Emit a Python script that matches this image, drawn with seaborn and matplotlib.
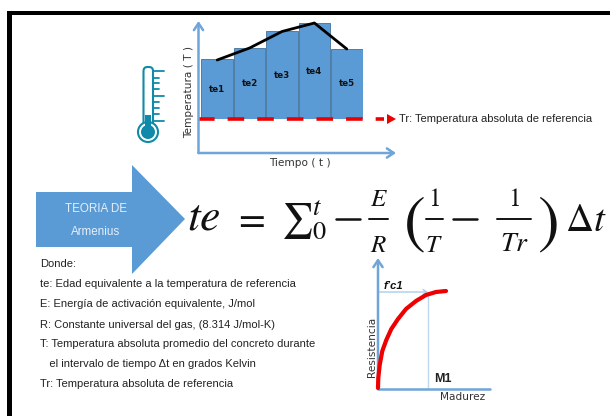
import numpy as np
import pandas as pd
import matplotlib
matplotlib.use("Agg")
import matplotlib.pyplot as plt
from matplotlib.patches import Polygon, Rectangle, Circle, FancyBboxPatch
import seaborn as sns

sns.set_theme(style="white")
plt.rcParams['font.family'] = ['Liberation Sans', 'DejaVu Sans']
plt.rcParams['mathtext.fontset'] = 'stix'

# temperature bars
intervals = ['te1', 'te2', 'te3', 'te4', 'te5']
bar_temps = [60, 71, 88, 96, 70]
line_temps = [59, 71, 87.5, 96, 70]
label_heights = [29, 36, 44, 47, 35]

# strength curve
madurez = [0, 0.3, 1.7, 4.3, 8.3, 13.3, 20, 28, 38, 48, 58, 68]
resistencia = [0, 10, 23, 37, 48, 59, 69, 79, 87, 93, 96, 97]

donde = ['Donde:',
         'te: Edad equivalente a la temperatura de referencia',
         'E: Energía de activación equivalente, J/mol',
         'R: Constante universal del gas, (8.314 J/mol-K)',
         'T: Temperatura absoluta promedio del concreto durante',
         '   el intervalo de tiempo Δt en grados Kelvin',
         'Tr: Temperatura absoluta de referencia']
donde_y = [264, 284, 304, 325, 344, 364, 384]

BLUE = '#5b9bd5'
TEAL = '#0f8aa8'
INK = '#111111'
W, H = 610, 416

fig = plt.figure(figsize=(W / 100, H / 100), dpi=100, facecolor='white')


def px_axes(x0, y0, x1, y1, z=1):
    # axes placed by pixel box, y0 is the top
    a = fig.add_axes([x0 / W, 1 - y1 / H, (x1 - x0) / W, (y1 - y0) / H], zorder=z)
    a.axis('off')
    a.patch.set_alpha(0)
    return a


# page layer in pixel coordinates, sits over the bars
page = px_axes(0, 0, W, H, z=5)
page.set_xlim(0, W)
page.set_ylim(H, 0)

page.add_patch(Rectangle((7, 11), W - 7, 4, color='black', lw=0))
page.add_patch(Rectangle((7, 11), 5, H - 11, color='black', lw=0))


def arrow(x0, y0, x1, y1, color='#6fa5d8', lw=1.8, size=11):
    page.annotate('', xy=(x1, y1), xytext=(x0, y0),
                  arrowprops=dict(arrowstyle='->,head_length=0.45,head_width=0.3', color=color,
                                  lw=lw, shrinkA=0, shrinkB=0, mutation_scale=size))


# thermometer
page.add_patch(FancyBboxPatch((143.5, 67), 9.5, 62, boxstyle='round,pad=0,rounding_size=4',
                              fc='white', ec=TEAL, lw=1.5))
page.add_patch(Circle((148, 132), 10, fc='white', ec=TEAL, lw=1.5, zorder=3))
page.add_patch(Circle((148, 132), 7, fc=TEAL, ec='none', zorder=4))
page.add_patch(Rectangle((145, 115), 6, 14, fc=TEAL, ec='none', zorder=4))
for ty, tl in [(71, 11), (78, 6), (83, 6), (89, 6), (96, 11), (102, 6), (108, 6), (114, 6), (121, 11)]:
    page.plot([153, 153 + tl], [ty, ty], color=TEAL, lw=1.3)

# top chart
ax = px_axes(201, 23, 363, 119)
df = pd.DataFrame({'intervalo': intervals, 'temp': bar_temps})
sns.barplot(data=df, x='intervalo', y='temp', color=BLUE, saturation=1, width=0.97,
            edgecolor='#41719c', linewidth=0.6, ax=ax)
sns.lineplot(x=np.arange(5), y=line_temps, color='black', lw=2, ax=ax, clip_on=False)
ax.set_xlim(-0.5, 4.5)
ax.set_ylim(0, 96)
ax.axis('off')
for i, name in enumerate(intervals):
    ax.text(i, label_heights[i], name, ha='center', va='center', fontsize=6.3,
            fontweight='bold', family=['DejaVu Sans'], color=INK)

arrow(198.5, 153, 198.5, 21)
arrow(198.5, 153, 396, 153)
page.plot([198, 384], [119, 119], color='#ee0000', lw=2.6, dashes=(4.6, 3.6))
page.add_patch(Polygon([[387, 114], [396, 119], [387, 124]], color='#ee0000', lw=0))
page.text(399, 119, 'Tr: Temperatura absoluta de referencia', fontsize=8, va='center', color='#222222')
page.text(189, 92, 'Temperatura ( T )', rotation=90, fontsize=7.6, ha='center', va='center',
          family=['DejaVu Sans'], color='#333333')
page.text(300, 163, 'Tiempo ( t )', fontsize=7.6, ha='center', va='center',
          family=['DejaVu Sans'], color='#333333')

# big arrow
page.add_patch(Polygon([[36, 192], [132, 192], [132, 165], [185, 219], [132, 274], [132, 247], [36, 247]],
                       color=BLUE, lw=0))
page.text(96, 209, 'TEORIA DE', color='#e4eef8', fontsize=8.4, ha='center', va='center')
page.text(96, 232, 'Armenius', color='#e4eef8', fontsize=8.4, ha='center', va='center')

# equation, piece by piece
page.text(187, 229, r'$te$', fontsize=33, va='baseline', color=INK)
page.text(233, 230, r'$=$', fontsize=28, va='baseline', color=INK)
page.text(281, 230, r'$\sum$', fontsize=25, va='baseline', color=INK)
page.text(312, 215, r'$t$', fontsize=19, va='baseline', color=INK)
page.text(312, 239, r'$0$', fontsize=19, va='baseline', color=INK)
page.plot([336, 360], [219, 219], color=INK, lw=1.8)
page.text(379, 206, r'$E$', fontsize=18, ha='center', va='baseline', color=INK)
page.plot([369, 388], [219, 219], color=INK, lw=1.4)
page.text(379, 252, r'$R$', fontsize=18, ha='center', va='baseline', color=INK)
page.text(415, 240, '(', fontsize=47, ha='center', va='baseline', family=['STIXGeneral'], color=INK)
page.text(434, 206, r'$1$', fontsize=18, ha='center', va='baseline', color=INK)
page.plot([426, 443], [219, 219], color=INK, lw=1.4)
page.text(434, 252, r'$T$', fontsize=18, ha='center', va='baseline', color=INK)
page.plot([453, 477], [219, 219], color=INK, lw=1.8)
page.text(514, 206, r'$1$', fontsize=18, ha='center', va='baseline', color=INK)
page.plot([497, 531], [219, 219], color=INK, lw=1.4)
page.text(514, 251, r'$Tr$', fontsize=20, ha='center', va='baseline', color=INK)
page.text(548, 240, ')', fontsize=47, ha='center', va='baseline', family=['STIXGeneral'], color=INK)
page.text(565, 231, r'$\Delta t$', fontsize=28, va='baseline', color=INK)

# legend text
for y, line in zip(donde_y, donde):
    page.text(40, y, line, fontsize=8, va='center', color='#222222')

# strength chart, red curve stays over the blue axis
ax2 = px_axes(378, 291, 447, 388, z=6)
sns.lineplot(x=madurez, y=resistencia, color='#ee0000', lw=3, ax=ax2, clip_on=False, sort=False)
ax2.set_xlim(0, 69)
ax2.set_ylim(0, 97)
ax2.axis('off')

page.plot([428, 428], [292, 388], color='#bcd7ef', lw=1)
arrow(379, 292, 428, 292, color='#a9cdea', lw=1, size=6)
arrow(378, 389, 378, 258)
page.plot([378, 490], [389, 389], color='#6fa5d8', lw=1.8)
page.text(393, 286, "f’c1", fontsize=8, fontweight='bold', style='italic', ha='center', va='center', color=INK)
page.text(443, 379, 'M1', fontsize=9, fontweight='bold', ha='center', va='center', color='#222222')
page.text(463, 397, 'Madurez', fontsize=7.6, ha='center', va='center', family=['DejaVu Sans'], color='#333333')
page.text(372, 347, 'Resistencia', rotation=90, fontsize=7.6, ha='center', va='center',
          family=['DejaVu Sans'], color='#333333')

fig.savefig('out.png', dpi=100)
